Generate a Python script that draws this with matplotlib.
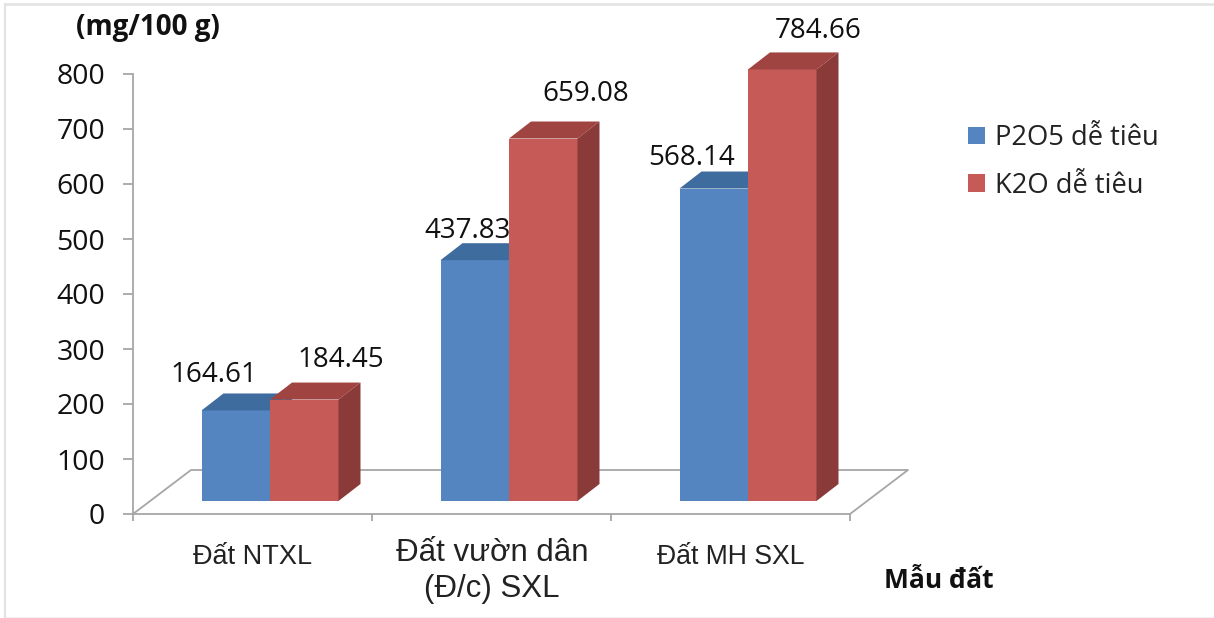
import matplotlib
matplotlib.use('Agg')
import matplotlib.pyplot as plt
from matplotlib.patches import Rectangle

categories = ['Đất NTXL', 'Đất vườn dân\n(Đ/c) SXL', 'Đất MH SXL']
p2o5_values = [164.61, 437.83, 568.14]
k2o_values = [184.45, 659.08, 784.66]
series_names = ['P2O5 dễ tiêu', 'K2O dễ tiêu']
y_ticks = [0, 100, 200, 300, 400, 500, 600, 700, 800]

width = 1214
height = 618
ppi = 100

LABEL_FONT = 'Open Sans'
AXIS_FONT = 'Liberation Sans'
GREY = '#a6a6a6'

# plot area in pixels
left, right, top, bottom = 133, 850, 74, 514
px_x = (right - left) / 3.0   # pixels per category
px_y = (bottom - top) / 800.0  # pixels per mg/100 g

fig = plt.figure(figsize=(width / ppi, height / ppi), dpi=ppi)
fig.patch.set_facecolor('white')
# thin frame round the whole figure, heavier at the top and left
fig.add_artist(Rectangle((4.5 / width, 1 / height), (width - 5) / width, (height - 5) / height,
                         transform=fig.transFigure, fill=False, edgecolor='#f0f0f0', linewidth=0.8))
fig.add_artist(plt.Line2D([4.5 / width, 1], [1 - 4 / height, 1 - 4 / height],
                          transform=fig.transFigure, color='#e2e2e2', linewidth=1.8))
fig.add_artist(plt.Line2D([4.5 / width, 4.5 / width], [0, 1 - 4 / height],
                          transform=fig.transFigure, color='#e2e2e2', linewidth=1.5))

ax = fig.add_axes([left / width, 1 - bottom / height, (right - left) / width, (bottom - top) / height])
ax.patch.set_alpha(0)
ax.set_xlim(0, 3)
ax.set_ylim(0, 800)

for side in ['top', 'right']:
    ax.spines[side].set_visible(False)
for side in ['left', 'bottom']:
    ax.spines[side].set_color(GREY)
    ax.spines[side].set_linewidth(1.3)

ax.set_yticks(y_ticks)
ax.set_yticklabels([str(t) for t in y_ticks], fontfamily=LABEL_FONT, fontsize=20.5)
ax.tick_params(axis='y', length=7, width=1.3, color=GREY, pad=13, labelcolor='#111111')
ax.set_xticks([0, 1, 2, 3])
ax.set_xticklabels([])
ax.tick_params(axis='x', length=5, width=1.3, color=GREY)

# floor of the 3d box
floor_dx = 58 / px_x
floor_dy = 44 / px_y
ax.plot([0, floor_dx, 3 + floor_dx, 3], [0, floor_dy, floor_dy, 0], color=GREY, lw=1.3,
        clip_on=False, zorder=1)

# bars sit a little way into the floor
base = 13 / px_y
depth_x = 22 / px_x
depth_y = 17 / px_y
bar_w = 68.5 / px_x
centers = [(270 - left) / px_x + i * 239 / px_x for i in range(3)]


def draw_bars(xs, values, front, top_color, side_color, zorder):
    bars = ax.bar(xs, values, bar_w, bottom=base, color=front, zorder=zorder, clip_on=False)
    for x, v in zip(xs, values):
        x0 = x - bar_w / 2
        x1 = x + bar_w / 2
        y1 = base + v
        ax.fill([x0, x0 + depth_x, x1 + depth_x, x1], [y1, y1 + depth_y, y1 + depth_y, y1],
                color=top_color, lw=0, zorder=zorder, clip_on=False)
        ax.fill([x1, x1 + depth_x, x1 + depth_x, x1], [base, base + depth_y, y1 + depth_y, y1],
                color=side_color, lw=0, zorder=zorder, clip_on=False)
    return bars


blue_x = [c - bar_w / 2 for c in centers]
red_x = [c + bar_w / 2 for c in centers]
blue_bars = draw_bars(blue_x, p2o5_values, '#5585c0', '#3f6c9e', '#3f6c9e', 2)
red_bars = draw_bars(red_x, k2o_values, '#c55a57', '#a04441', '#8a3a38', 3)

# value labels, offsets in pixels from the top middle of each bar
blue_offsets = [(-22, 35), (-7, 29), (-22, 31)]
red_offsets = [(37, 40), (42, 45), (36, 38)]
for xs, values, offsets in [(blue_x, p2o5_values, blue_offsets), (red_x, k2o_values, red_offsets)]:
    for x, v, off in zip(xs, values, offsets):
        ax.annotate('%.2f' % v, xy=(x, base + v), xytext=off, textcoords='offset pixels',
                    ha='center', va='center', fontfamily=LABEL_FONT, fontsize=20,
                    color='#111111', zorder=5, annotation_clip=False)

# category labels, the middle one is set larger
label_x = [253, 492, 731]
label_y = [544, 538, 544]
label_sizes = [19.5, 22.5, 19.2]
for name, x, y, size in zip(categories, label_x, label_y, label_sizes):
    fig.text(x / width, 1 - y / height, name, ha='center', va='top', fontfamily=AXIS_FONT,
             fontsize=size, color='#222222', linespacing=1.25)

fig.text(148 / width, 1 - 27 / height, '(mg/100 g)', ha='center', va='center', fontfamily=LABEL_FONT,
         fontsize=20, fontweight='bold', color='#111111')
fig.text(939 / width, 1 - 581 / height, 'Mẫu đất', ha='center', va='center', fontfamily=LABEL_FONT,
         fontsize=19, fontweight='bold', color='#111111')

fig.legend([blue_bars, red_bars], series_names, loc='upper left',
           bbox_to_anchor=(968 / width, 1 - 124 / height), frameon=False,
           prop={'family': LABEL_FONT, 'size': 19.7}, handlelength=0.62, handleheight=0.62,
           handletextpad=0.38, labelspacing=0.72, borderpad=0, borderaxespad=0, labelcolor='#222222')

fig.savefig('out.png', dpi=ppi)
